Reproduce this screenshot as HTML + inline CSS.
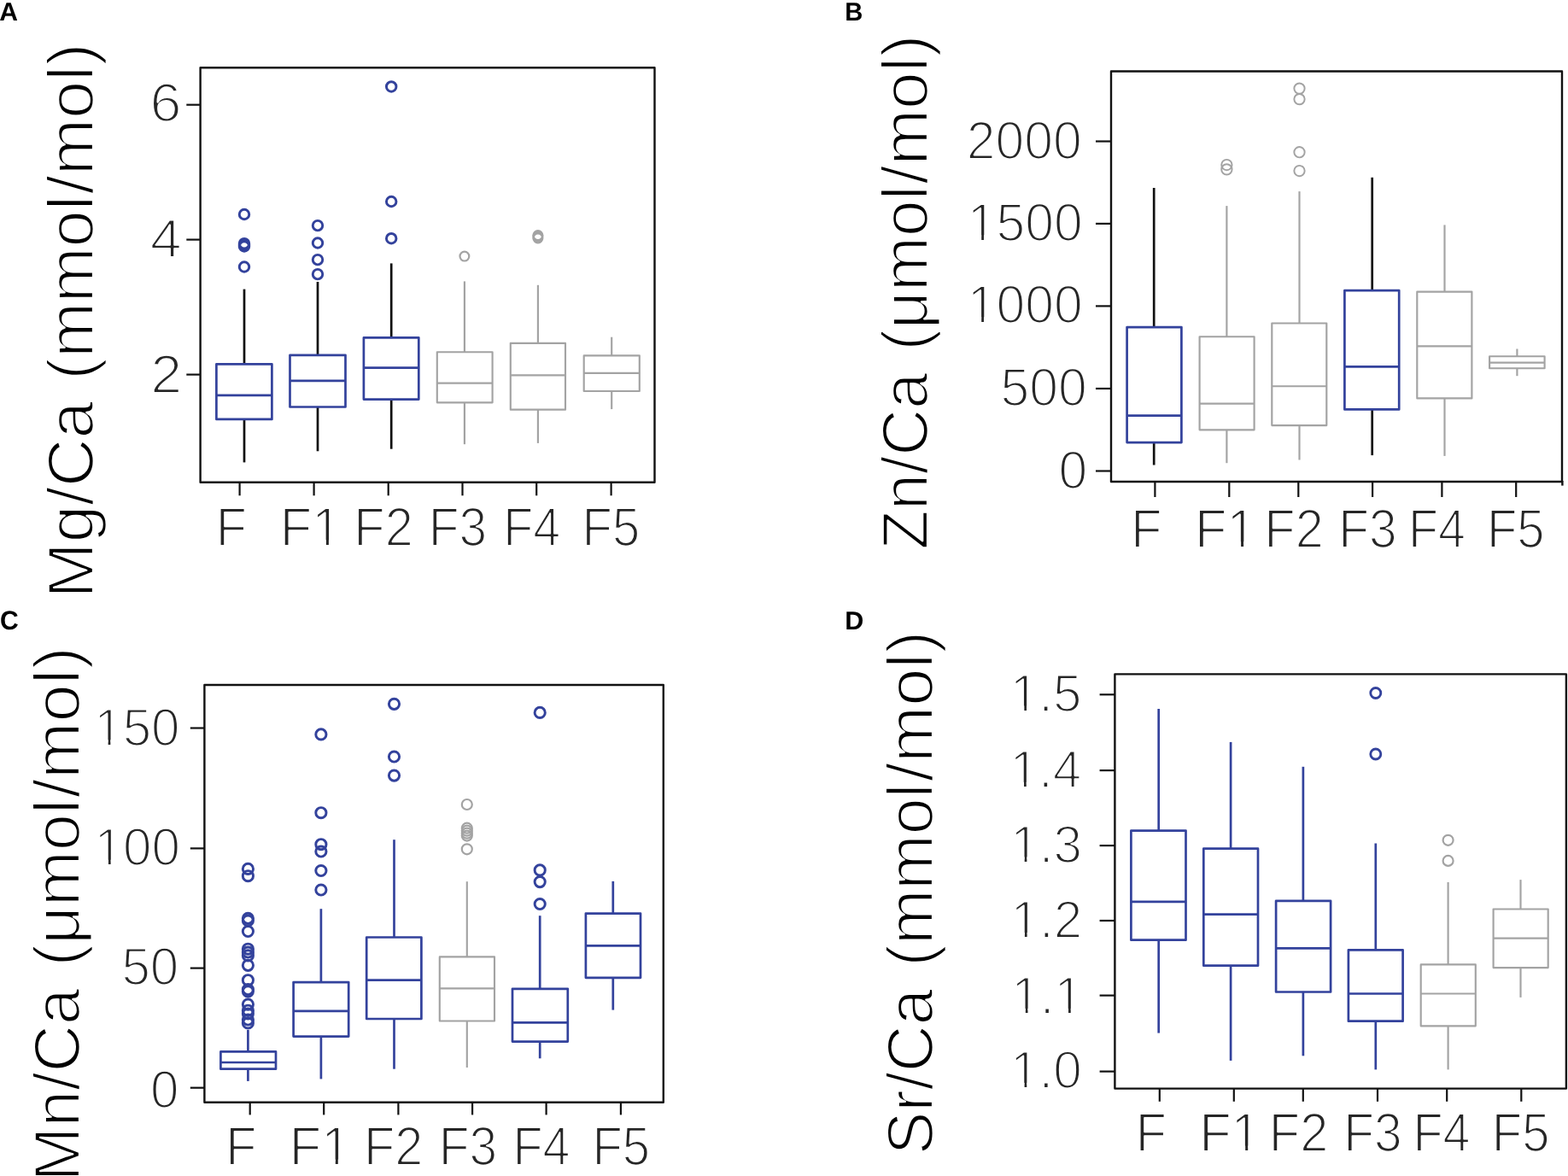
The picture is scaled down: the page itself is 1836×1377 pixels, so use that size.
<!DOCTYPE html>
<html><head><meta charset="utf-8"><title>Element ratios boxplots</title>
<style>
html,body{margin:0;padding:0;background:#fff;overflow:hidden;width:1836px;height:1377px;}
svg{display:block;}
text{font-family:"Liberation Sans",Arial,sans-serif;paint-order:fill stroke;font-kerning:none;font-variant-ligatures:none;text-rendering:geometricPrecision;}
</style></head><body>
<svg width="1836" height="1377" viewBox="0 0 1836 1377">
<rect width="1836" height="1377" fill="#fff"/>
<g transform="translate(-0.75,24.00) scale(1.0007,1)"><text font-size="30.09" fill="#000" font-weight="bold">A</text></g>
<line x1="218.3" y1="122.7" x2="234.6" y2="122.7" stroke="#111111" stroke-width="2.2" stroke-linecap="butt"/>
<g transform="translate(175.38,142.48) scale(1.0482,1)"><text font-size="63.45" fill="#262626" stroke="#fff" stroke-width="2.2" stroke-linejoin="round">6</text></g>
<line x1="218.3" y1="280.6" x2="234.6" y2="280.6" stroke="#111111" stroke-width="2.2" stroke-linecap="butt"/>
<g transform="translate(175.72,300.80) scale(1.0482,1)"><text font-size="63.45" fill="#262626" stroke="#fff" stroke-width="2.2" stroke-linejoin="round">4</text></g>
<line x1="218.3" y1="438.6" x2="234.6" y2="438.6" stroke="#111111" stroke-width="2.2" stroke-linecap="butt"/>
<g transform="translate(176.16,460.10) scale(1.0482,1)"><text font-size="63.45" fill="#262626" stroke="#fff" stroke-width="2.2" stroke-linejoin="round">2</text></g>
<line x1="280.6" y1="564.8" x2="280.6" y2="580.3" stroke="#111111" stroke-width="2.2" stroke-linecap="butt"/>
<line x1="367.6" y1="564.8" x2="367.6" y2="580.3" stroke="#111111" stroke-width="2.2" stroke-linecap="butt"/>
<line x1="454.7" y1="564.8" x2="454.7" y2="580.3" stroke="#111111" stroke-width="2.2" stroke-linecap="butt"/>
<line x1="541.5" y1="564.8" x2="541.5" y2="580.3" stroke="#111111" stroke-width="2.2" stroke-linecap="butt"/>
<line x1="628.2" y1="564.8" x2="628.2" y2="580.3" stroke="#111111" stroke-width="2.2" stroke-linecap="butt"/>
<line x1="715.6" y1="564.8" x2="715.6" y2="580.3" stroke="#111111" stroke-width="2.2" stroke-linecap="butt"/>
<g transform="translate(252.65,638.60) scale(0.9268,1)"><text font-size="63.95" fill="#262626" stroke="#fff" stroke-width="2.0" stroke-linejoin="round">F</text></g>
<g transform="translate(327.86,638.60) scale(0.9580,1)"><text font-size="63.95" fill="#262626" stroke="#fff" stroke-width="2.0" stroke-linejoin="round">F1</text><rect x="41.75" y="-6.38" width="14.65" height="8.58" fill="#fff"/><rect x="59.55" y="-6.38" width="14.15" height="8.58" fill="#fff"/></g>
<g transform="translate(414.36,638.60) scale(0.9297,1)"><text font-size="63.95" fill="#262626" stroke="#fff" stroke-width="2.0" stroke-linejoin="round">F2</text></g>
<g transform="translate(501.66,638.60) scale(0.9170,1)"><text font-size="63.95" fill="#262626" stroke="#fff" stroke-width="2.0" stroke-linejoin="round">F3</text></g>
<g transform="translate(589.21,638.60) scale(0.8972,1)"><text font-size="63.95" fill="#262626" stroke="#fff" stroke-width="2.0" stroke-linejoin="round">F4</text></g>
<g transform="translate(681.52,638.60) scale(0.9063,1)"><text font-size="63.95" fill="#262626" stroke="#fff" stroke-width="2.0" stroke-linejoin="round">F5</text></g>
<g transform="translate(108.50,700.52) rotate(-90) scale(1.0298,1)"><text font-size="76.00" fill="#000" stroke="#fff" stroke-width="2.2" stroke-linejoin="round">Mg/Ca</text></g>
<g transform="translate(108.50,444.71) rotate(-90) scale(1.0215,1)"><text font-size="76.00" fill="#000" stroke="#fff" stroke-width="2.2" stroke-linejoin="round">(mmol</text></g>
<g transform="translate(108.50,227.30) rotate(-90) scale(1.0465,1)"><text font-size="76.00" fill="#000" stroke="#fff" stroke-width="2.2" stroke-linejoin="round">/mol)</text></g>
<line x1="286.0" y1="338.6" x2="286.0" y2="426.3" stroke="#111111" stroke-width="2.7" stroke-linecap="butt"/>
<line x1="286.0" y1="490.9" x2="286.0" y2="541.4" stroke="#111111" stroke-width="2.7" stroke-linecap="butt"/>
<rect x="253.4" y="426.3" width="65.0" height="64.6" fill="none" stroke="#33429c" stroke-width="2.7" stroke-linejoin="round"/>
<line x1="253.4" y1="462.9" x2="318.4" y2="462.9" stroke="#33429c" stroke-width="2.7" stroke-linecap="butt"/>
<circle cx="286.0" cy="251.0" r="5.75" fill="none" stroke="#33429c" stroke-width="2.95"/>
<circle cx="286.0" cy="285.2" r="5.75" fill="none" stroke="#33429c" stroke-width="2.95"/>
<circle cx="286.0" cy="286.8" r="5.75" fill="none" stroke="#33429c" stroke-width="2.95"/>
<circle cx="286.0" cy="288.4" r="5.75" fill="none" stroke="#33429c" stroke-width="2.95"/>
<circle cx="286.0" cy="312.5" r="5.75" fill="none" stroke="#33429c" stroke-width="2.95"/>
<line x1="372.0" y1="330.0" x2="372.0" y2="415.8" stroke="#111111" stroke-width="2.7" stroke-linecap="butt"/>
<line x1="372.0" y1="476.5" x2="372.0" y2="528.3" stroke="#111111" stroke-width="2.7" stroke-linecap="butt"/>
<rect x="339.5" y="415.8" width="65.0" height="60.7" fill="none" stroke="#33429c" stroke-width="2.7" stroke-linejoin="round"/>
<line x1="339.5" y1="445.9" x2="404.5" y2="445.9" stroke="#33429c" stroke-width="2.7" stroke-linecap="butt"/>
<circle cx="372.0" cy="264.1" r="5.75" fill="none" stroke="#33429c" stroke-width="2.95"/>
<circle cx="372.0" cy="284.5" r="5.75" fill="none" stroke="#33429c" stroke-width="2.95"/>
<circle cx="372.0" cy="304.1" r="5.75" fill="none" stroke="#33429c" stroke-width="2.95"/>
<circle cx="372.0" cy="321.1" r="5.75" fill="none" stroke="#33429c" stroke-width="2.95"/>
<line x1="458.2" y1="308.4" x2="458.2" y2="395.4" stroke="#111111" stroke-width="2.7" stroke-linecap="butt"/>
<line x1="458.2" y1="467.6" x2="458.2" y2="525.7" stroke="#111111" stroke-width="2.7" stroke-linecap="butt"/>
<rect x="425.9" y="395.4" width="64.4" height="72.2" fill="none" stroke="#33429c" stroke-width="2.7" stroke-linejoin="round"/>
<line x1="425.9" y1="430.7" x2="490.3" y2="430.7" stroke="#33429c" stroke-width="2.7" stroke-linecap="butt"/>
<circle cx="458.2" cy="101.4" r="5.75" fill="none" stroke="#33429c" stroke-width="2.95"/>
<circle cx="458.2" cy="236.0" r="5.75" fill="none" stroke="#33429c" stroke-width="2.95"/>
<circle cx="458.2" cy="279.2" r="5.75" fill="none" stroke="#33429c" stroke-width="2.95"/>
<line x1="543.9" y1="329.4" x2="543.9" y2="412.2" stroke="#a3a3a3" stroke-width="2.15" stroke-linecap="butt"/>
<line x1="543.9" y1="471.3" x2="543.9" y2="520.2" stroke="#a3a3a3" stroke-width="2.15" stroke-linecap="butt"/>
<rect x="511.8" y="412.2" width="64.8" height="59.1" fill="none" stroke="#a3a3a3" stroke-width="2.15" stroke-linejoin="round"/>
<line x1="511.8" y1="448.6" x2="576.6" y2="448.6" stroke="#a3a3a3" stroke-width="2.15" stroke-linecap="butt"/>
<circle cx="543.9" cy="300.1" r="5.4" fill="none" stroke="#a3a3a3" stroke-width="2.2"/>
<line x1="629.9" y1="333.8" x2="629.9" y2="401.8" stroke="#a3a3a3" stroke-width="2.15" stroke-linecap="butt"/>
<line x1="629.9" y1="479.7" x2="629.9" y2="518.9" stroke="#a3a3a3" stroke-width="2.15" stroke-linecap="butt"/>
<rect x="597.8" y="401.8" width="64.2" height="77.9" fill="none" stroke="#a3a3a3" stroke-width="2.15" stroke-linejoin="round"/>
<line x1="597.8" y1="439.4" x2="662.0" y2="439.4" stroke="#a3a3a3" stroke-width="2.15" stroke-linecap="butt"/>
<circle cx="629.9" cy="275.6" r="5.4" fill="none" stroke="#a3a3a3" stroke-width="2.2"/>
<circle cx="629.9" cy="277.2" r="5.4" fill="none" stroke="#a3a3a3" stroke-width="2.2"/>
<circle cx="629.9" cy="278.9" r="5.4" fill="none" stroke="#a3a3a3" stroke-width="2.2"/>
<line x1="716.2" y1="394.7" x2="716.2" y2="416.4" stroke="#a3a3a3" stroke-width="2.15" stroke-linecap="butt"/>
<line x1="716.2" y1="458.0" x2="716.2" y2="479.1" stroke="#a3a3a3" stroke-width="2.15" stroke-linecap="butt"/>
<rect x="683.7" y="416.4" width="65.1" height="41.6" fill="none" stroke="#a3a3a3" stroke-width="2.15" stroke-linejoin="round"/>
<line x1="683.7" y1="436.8" x2="748.8" y2="436.8" stroke="#a3a3a3" stroke-width="2.15" stroke-linecap="butt"/>
<rect x="234.6" y="79.2" width="531.9" height="485.6" fill="none" stroke="#111111" stroke-width="2.4" stroke-linejoin="round"/>
<g transform="translate(989.35,24.00) scale(0.9701,1)"><text font-size="30.09" fill="#000" font-weight="bold">B</text></g>
<line x1="1283.0" y1="165.5" x2="1301.0" y2="165.5" stroke="#111111" stroke-width="2.2" stroke-linecap="butt"/>
<g transform="translate(1131.82,186.19) scale(0.9682,1)"><text font-size="62.71" fill="#262626" stroke="#fff" stroke-width="2.2" stroke-linejoin="round">2000</text></g>
<line x1="1283.0" y1="261.9" x2="1301.0" y2="261.9" stroke="#111111" stroke-width="2.2" stroke-linecap="butt"/>
<g transform="translate(1132.63,281.59) scale(0.9682,1)"><text font-size="62.71" fill="#262626" stroke="#fff" stroke-width="2.2" stroke-linejoin="round">1500</text><rect x="2.49" y="-6.38" width="14.63" height="8.68" fill="#fff"/><rect x="19.96" y="-6.38" width="14.14" height="8.68" fill="#fff"/></g>
<line x1="1283.0" y1="358.4" x2="1301.0" y2="358.4" stroke="#111111" stroke-width="2.2" stroke-linecap="butt"/>
<g transform="translate(1132.63,377.59) scale(0.9682,1)"><text font-size="62.71" fill="#262626" stroke="#fff" stroke-width="2.2" stroke-linejoin="round">1000</text><rect x="2.49" y="-6.38" width="14.63" height="8.68" fill="#fff"/><rect x="19.96" y="-6.38" width="14.14" height="8.68" fill="#fff"/></g>
<line x1="1283.0" y1="455.0" x2="1301.0" y2="455.0" stroke="#111111" stroke-width="2.2" stroke-linecap="butt"/>
<g transform="translate(1171.57,474.89) scale(0.9682,1)"><text font-size="62.71" fill="#262626" stroke="#fff" stroke-width="2.2" stroke-linejoin="round">500</text></g>
<line x1="1283.0" y1="551.5" x2="1301.0" y2="551.5" stroke="#111111" stroke-width="2.2" stroke-linecap="butt"/>
<g transform="translate(1239.52,571.79) scale(0.9682,1)"><text font-size="62.71" fill="#262626" stroke="#fff" stroke-width="2.2" stroke-linejoin="round">0</text></g>
<line x1="1352.4" y1="564.0" x2="1352.4" y2="582.0" stroke="#111111" stroke-width="2.2" stroke-linecap="butt"/>
<line x1="1439.3" y1="564.0" x2="1439.3" y2="582.0" stroke="#111111" stroke-width="2.2" stroke-linecap="butt"/>
<line x1="1520.3" y1="564.0" x2="1520.3" y2="582.0" stroke="#111111" stroke-width="2.2" stroke-linecap="butt"/>
<line x1="1607.1" y1="564.0" x2="1607.1" y2="582.0" stroke="#111111" stroke-width="2.2" stroke-linecap="butt"/>
<line x1="1688.4" y1="564.0" x2="1688.4" y2="582.0" stroke="#111111" stroke-width="2.2" stroke-linecap="butt"/>
<line x1="1775.2" y1="564.0" x2="1775.2" y2="582.0" stroke="#111111" stroke-width="2.2" stroke-linecap="butt"/>
<g transform="translate(1324.15,640.60) scale(0.9268,1)"><text font-size="63.95" fill="#262626" stroke="#fff" stroke-width="2.0" stroke-linejoin="round">F</text></g>
<g transform="translate(1399.06,640.60) scale(0.9580,1)"><text font-size="63.95" fill="#262626" stroke="#fff" stroke-width="2.0" stroke-linejoin="round">F1</text><rect x="41.75" y="-6.38" width="14.65" height="8.58" fill="#fff"/><rect x="59.55" y="-6.38" width="14.15" height="8.58" fill="#fff"/></g>
<g transform="translate(1480.36,640.60) scale(0.9297,1)"><text font-size="63.95" fill="#262626" stroke="#fff" stroke-width="2.0" stroke-linejoin="round">F2</text></g>
<g transform="translate(1567.16,640.60) scale(0.9170,1)"><text font-size="63.95" fill="#262626" stroke="#fff" stroke-width="2.0" stroke-linejoin="round">F3</text></g>
<g transform="translate(1648.91,640.60) scale(0.8972,1)"><text font-size="63.95" fill="#262626" stroke="#fff" stroke-width="2.0" stroke-linejoin="round">F4</text></g>
<g transform="translate(1740.92,640.60) scale(0.9063,1)"><text font-size="63.95" fill="#262626" stroke="#fff" stroke-width="2.0" stroke-linejoin="round">F5</text></g>
<g transform="translate(1086.10,643.82) rotate(-90) scale(1.0017,1)"><text font-size="76.00" fill="#000" stroke="#fff" stroke-width="2.2" stroke-linejoin="round">Zn/Ca</text></g>
<g transform="translate(1086.10,410.76) rotate(-90) scale(1.0101,1)"><text font-size="76.00" fill="#000" stroke="#fff" stroke-width="2.2" stroke-linejoin="round">(μmol</text></g>
<g transform="translate(1086.10,215.50) rotate(-90) scale(1.0361,1)"><text font-size="76.00" fill="#000" stroke="#fff" stroke-width="2.2" stroke-linejoin="round">/mol)</text></g>
<line x1="1351.2" y1="220.0" x2="1351.2" y2="383.1" stroke="#111111" stroke-width="2.7" stroke-linecap="butt"/>
<line x1="1351.2" y1="518.1" x2="1351.2" y2="544.5" stroke="#111111" stroke-width="2.7" stroke-linecap="butt"/>
<rect x="1319.6" y="383.1" width="63.8" height="135.0" fill="none" stroke="#33429c" stroke-width="2.7" stroke-linejoin="round"/>
<line x1="1319.6" y1="486.7" x2="1383.4" y2="486.7" stroke="#33429c" stroke-width="2.7" stroke-linecap="butt"/>
<line x1="1436.4" y1="241.1" x2="1436.4" y2="394.2" stroke="#a3a3a3" stroke-width="2.15" stroke-linecap="butt"/>
<line x1="1436.4" y1="503.3" x2="1436.4" y2="542.2" stroke="#a3a3a3" stroke-width="2.15" stroke-linecap="butt"/>
<rect x="1404.6" y="394.2" width="64.0" height="109.1" fill="none" stroke="#a3a3a3" stroke-width="2.15" stroke-linejoin="round"/>
<line x1="1404.6" y1="472.6" x2="1468.6" y2="472.6" stroke="#a3a3a3" stroke-width="2.15" stroke-linecap="butt"/>
<circle cx="1436.4" cy="193.0" r="6.15" fill="none" stroke="#a3a3a3" stroke-width="1.95"/>
<circle cx="1436.4" cy="198.4" r="6.15" fill="none" stroke="#a3a3a3" stroke-width="1.95"/>
<line x1="1521.5" y1="224.1" x2="1521.5" y2="378.5" stroke="#a3a3a3" stroke-width="2.15" stroke-linecap="butt"/>
<line x1="1521.5" y1="498.1" x2="1521.5" y2="538.5" stroke="#a3a3a3" stroke-width="2.15" stroke-linecap="butt"/>
<rect x="1489.3" y="378.5" width="64.0" height="119.6" fill="none" stroke="#a3a3a3" stroke-width="2.15" stroke-linejoin="round"/>
<line x1="1489.3" y1="452.2" x2="1553.3" y2="452.2" stroke="#a3a3a3" stroke-width="2.15" stroke-linecap="butt"/>
<circle cx="1521.5" cy="103.6" r="6.15" fill="none" stroke="#a3a3a3" stroke-width="1.95"/>
<circle cx="1521.5" cy="116.1" r="6.15" fill="none" stroke="#a3a3a3" stroke-width="1.95"/>
<circle cx="1521.5" cy="178.2" r="6.15" fill="none" stroke="#a3a3a3" stroke-width="1.95"/>
<circle cx="1521.5" cy="200.0" r="6.15" fill="none" stroke="#a3a3a3" stroke-width="1.95"/>
<line x1="1606.7" y1="207.8" x2="1606.7" y2="340.1" stroke="#111111" stroke-width="2.7" stroke-linecap="butt"/>
<line x1="1606.7" y1="479.4" x2="1606.7" y2="533.1" stroke="#111111" stroke-width="2.7" stroke-linecap="butt"/>
<rect x="1574.4" y="340.1" width="63.8" height="139.3" fill="none" stroke="#33429c" stroke-width="2.7" stroke-linejoin="round"/>
<line x1="1574.4" y1="429.4" x2="1638.2" y2="429.4" stroke="#33429c" stroke-width="2.7" stroke-linecap="butt"/>
<line x1="1691.5" y1="263.4" x2="1691.5" y2="341.6" stroke="#a3a3a3" stroke-width="2.15" stroke-linecap="butt"/>
<line x1="1691.5" y1="466.4" x2="1691.5" y2="533.9" stroke="#a3a3a3" stroke-width="2.15" stroke-linecap="butt"/>
<rect x="1659.3" y="341.6" width="64.1" height="124.8" fill="none" stroke="#a3a3a3" stroke-width="2.15" stroke-linejoin="round"/>
<line x1="1659.3" y1="405.3" x2="1723.4" y2="405.3" stroke="#a3a3a3" stroke-width="2.15" stroke-linecap="butt"/>
<line x1="1776.4" y1="408.5" x2="1776.4" y2="417.2" stroke="#a3a3a3" stroke-width="2.15" stroke-linecap="butt"/>
<line x1="1776.4" y1="431.2" x2="1776.4" y2="440.2" stroke="#a3a3a3" stroke-width="2.15" stroke-linecap="butt"/>
<rect x="1744.1" y="417.2" width="64.5" height="14.0" fill="none" stroke="#a3a3a3" stroke-width="2.15" stroke-linejoin="round"/>
<line x1="1744.1" y1="424.6" x2="1808.6" y2="424.6" stroke="#a3a3a3" stroke-width="2.15" stroke-linecap="butt"/>
<rect x="1301.0" y="83.5" width="528.0" height="480.5" fill="none" stroke="#111111" stroke-width="2.4" stroke-linejoin="round"/>
<g transform="translate(-0.04,737.10) scale(0.9653,1)"><text font-size="31.21" fill="#000" font-weight="bold">C</text></g>
<line x1="222.8" y1="852.5" x2="239.4" y2="852.5" stroke="#111111" stroke-width="2.2" stroke-linecap="butt"/>
<g transform="translate(110.22,872.59) scale(0.9699,1)"><text font-size="62.00" fill="#262626" stroke="#fff" stroke-width="2.2" stroke-linejoin="round">150</text><rect x="2.44" y="-6.33" width="14.50" height="8.63" fill="#fff"/><rect x="19.72" y="-6.33" width="14.02" height="8.63" fill="#fff"/></g>
<line x1="222.8" y1="993.4" x2="239.4" y2="993.4" stroke="#111111" stroke-width="2.2" stroke-linecap="butt"/>
<g transform="translate(110.52,1013.09) scale(0.9699,1)"><text font-size="62.00" fill="#262626" stroke="#fff" stroke-width="2.2" stroke-linejoin="round">100</text><rect x="2.44" y="-6.33" width="14.50" height="8.63" fill="#fff"/><rect x="19.72" y="-6.33" width="14.02" height="8.63" fill="#fff"/></g>
<line x1="222.8" y1="1133.6" x2="239.4" y2="1133.6" stroke="#111111" stroke-width="2.2" stroke-linecap="butt"/>
<g transform="translate(142.43,1153.29) scale(0.9699,1)"><text font-size="62.00" fill="#262626" stroke="#fff" stroke-width="2.2" stroke-linejoin="round">50</text></g>
<line x1="222.8" y1="1273.7" x2="239.4" y2="1273.7" stroke="#111111" stroke-width="2.2" stroke-linecap="butt"/>
<g transform="translate(175.88,1296.69) scale(0.9699,1)"><text font-size="62.00" fill="#262626" stroke="#fff" stroke-width="2.2" stroke-linejoin="round">0</text></g>
<line x1="292.7" y1="1290.7" x2="292.7" y2="1305.4" stroke="#111111" stroke-width="2.2" stroke-linecap="butt"/>
<line x1="379.2" y1="1290.7" x2="379.2" y2="1305.4" stroke="#111111" stroke-width="2.2" stroke-linecap="butt"/>
<line x1="466.4" y1="1290.7" x2="466.4" y2="1305.4" stroke="#111111" stroke-width="2.2" stroke-linecap="butt"/>
<line x1="553.1" y1="1290.7" x2="553.1" y2="1305.4" stroke="#111111" stroke-width="2.2" stroke-linecap="butt"/>
<line x1="639.6" y1="1290.7" x2="639.6" y2="1305.4" stroke="#111111" stroke-width="2.2" stroke-linecap="butt"/>
<line x1="726.9" y1="1290.7" x2="726.9" y2="1305.4" stroke="#111111" stroke-width="2.2" stroke-linecap="butt"/>
<g transform="translate(264.15,1363.90) scale(0.9268,1)"><text font-size="63.95" fill="#262626" stroke="#fff" stroke-width="2.0" stroke-linejoin="round">F</text></g>
<g transform="translate(338.76,1363.90) scale(0.9580,1)"><text font-size="63.95" fill="#262626" stroke="#fff" stroke-width="2.0" stroke-linejoin="round">F1</text><rect x="41.75" y="-6.38" width="14.65" height="8.58" fill="#fff"/><rect x="59.55" y="-6.38" width="14.15" height="8.58" fill="#fff"/></g>
<g transform="translate(426.06,1363.90) scale(0.9297,1)"><text font-size="63.95" fill="#262626" stroke="#fff" stroke-width="2.0" stroke-linejoin="round">F2</text></g>
<g transform="translate(513.66,1363.90) scale(0.9170,1)"><text font-size="63.95" fill="#262626" stroke="#fff" stroke-width="2.0" stroke-linejoin="round">F3</text></g>
<g transform="translate(600.51,1363.90) scale(0.8972,1)"><text font-size="63.95" fill="#262626" stroke="#fff" stroke-width="2.0" stroke-linejoin="round">F4</text></g>
<g transform="translate(693.42,1363.90) scale(0.9063,1)"><text font-size="63.95" fill="#262626" stroke="#fff" stroke-width="2.0" stroke-linejoin="round">F5</text></g>
<g transform="translate(92.80,1383.40) rotate(-90) scale(1.0101,1)"><text font-size="76.00" fill="#000" stroke="#fff" stroke-width="2.2" stroke-linejoin="round">Mn/Ca</text></g>
<g transform="translate(92.80,1131.62) rotate(-90) scale(1.0228,1)"><text font-size="76.00" fill="#000" stroke="#fff" stroke-width="2.2" stroke-linejoin="round">(μmol</text></g>
<g transform="translate(92.80,934.00) rotate(-90) scale(1.0471,1)"><text font-size="76.00" fill="#000" stroke="#fff" stroke-width="2.2" stroke-linejoin="round">/mol)</text></g>
<line x1="290.4" y1="1206.0" x2="290.4" y2="1231.4" stroke="#33429c" stroke-width="2.7" stroke-linecap="butt"/>
<line x1="290.4" y1="1251.7" x2="290.4" y2="1265.9" stroke="#33429c" stroke-width="2.7" stroke-linecap="butt"/>
<rect x="258.4" y="1231.4" width="64.6" height="20.3" fill="none" stroke="#33429c" stroke-width="2.7" stroke-linejoin="round"/>
<line x1="258.4" y1="1244.0" x2="323.0" y2="1244.0" stroke="#33429c" stroke-width="2.7" stroke-linecap="butt"/>
<circle cx="290.4" cy="1017.4" r="6.1" fill="none" stroke="#33429c" stroke-width="2.95"/>
<circle cx="290.4" cy="1025.7" r="6.1" fill="none" stroke="#33429c" stroke-width="2.95"/>
<circle cx="290.4" cy="1075.3" r="6.1" fill="none" stroke="#33429c" stroke-width="2.95"/>
<circle cx="290.4" cy="1078.0" r="6.1" fill="none" stroke="#33429c" stroke-width="2.95"/>
<circle cx="290.4" cy="1090.5" r="6.1" fill="none" stroke="#33429c" stroke-width="2.95"/>
<circle cx="290.4" cy="1111.2" r="6.1" fill="none" stroke="#33429c" stroke-width="2.95"/>
<circle cx="290.4" cy="1115.0" r="6.1" fill="none" stroke="#33429c" stroke-width="2.95"/>
<circle cx="290.4" cy="1118.9" r="6.1" fill="none" stroke="#33429c" stroke-width="2.95"/>
<circle cx="290.4" cy="1130.3" r="6.1" fill="none" stroke="#33429c" stroke-width="2.95"/>
<circle cx="290.4" cy="1147.7" r="6.1" fill="none" stroke="#33429c" stroke-width="2.95"/>
<circle cx="290.4" cy="1158.6" r="6.1" fill="none" stroke="#33429c" stroke-width="2.95"/>
<circle cx="290.4" cy="1160.8" r="6.1" fill="none" stroke="#33429c" stroke-width="2.95"/>
<circle cx="290.4" cy="1176.1" r="6.1" fill="none" stroke="#33429c" stroke-width="2.95"/>
<circle cx="290.4" cy="1183.2" r="6.1" fill="none" stroke="#33429c" stroke-width="2.95"/>
<circle cx="290.4" cy="1187.0" r="6.1" fill="none" stroke="#33429c" stroke-width="2.95"/>
<circle cx="290.4" cy="1194.0" r="6.1" fill="none" stroke="#33429c" stroke-width="2.95"/>
<circle cx="290.4" cy="1197.9" r="6.1" fill="none" stroke="#33429c" stroke-width="2.95"/>
<line x1="375.9" y1="1064.2" x2="375.9" y2="1150.1" stroke="#33429c" stroke-width="2.7" stroke-linecap="butt"/>
<line x1="375.9" y1="1213.6" x2="375.9" y2="1263.4" stroke="#33429c" stroke-width="2.7" stroke-linecap="butt"/>
<rect x="343.6" y="1150.1" width="64.6" height="63.5" fill="none" stroke="#33429c" stroke-width="2.7" stroke-linejoin="round"/>
<line x1="343.6" y1="1183.9" x2="408.2" y2="1183.9" stroke="#33429c" stroke-width="2.7" stroke-linecap="butt"/>
<circle cx="375.9" cy="859.9" r="6.1" fill="none" stroke="#33429c" stroke-width="2.95"/>
<circle cx="375.9" cy="951.7" r="6.1" fill="none" stroke="#33429c" stroke-width="2.95"/>
<circle cx="375.9" cy="988.7" r="6.1" fill="none" stroke="#33429c" stroke-width="2.95"/>
<circle cx="375.9" cy="997.0" r="6.1" fill="none" stroke="#33429c" stroke-width="2.95"/>
<circle cx="375.9" cy="1019.5" r="6.1" fill="none" stroke="#33429c" stroke-width="2.95"/>
<circle cx="375.9" cy="1042.0" r="6.1" fill="none" stroke="#33429c" stroke-width="2.95"/>
<line x1="461.5" y1="983.2" x2="461.5" y2="1097.5" stroke="#33429c" stroke-width="2.7" stroke-linecap="butt"/>
<line x1="461.5" y1="1193.0" x2="461.5" y2="1251.7" stroke="#33429c" stroke-width="2.7" stroke-linecap="butt"/>
<rect x="429.2" y="1097.5" width="64.2" height="95.5" fill="none" stroke="#33429c" stroke-width="2.7" stroke-linejoin="round"/>
<line x1="429.2" y1="1147.6" x2="493.4" y2="1147.6" stroke="#33429c" stroke-width="2.7" stroke-linecap="butt"/>
<circle cx="461.5" cy="824.3" r="6.1" fill="none" stroke="#33429c" stroke-width="2.95"/>
<circle cx="461.5" cy="886.0" r="6.1" fill="none" stroke="#33429c" stroke-width="2.95"/>
<circle cx="461.5" cy="908.1" r="6.1" fill="none" stroke="#33429c" stroke-width="2.95"/>
<line x1="546.8" y1="1032.2" x2="546.8" y2="1120.4" stroke="#a3a3a3" stroke-width="2.15" stroke-linecap="butt"/>
<line x1="546.8" y1="1195.5" x2="546.8" y2="1250.0" stroke="#a3a3a3" stroke-width="2.15" stroke-linecap="butt"/>
<rect x="514.8" y="1120.4" width="64.2" height="75.1" fill="none" stroke="#a3a3a3" stroke-width="2.15" stroke-linejoin="round"/>
<line x1="514.8" y1="1157.4" x2="579.0" y2="1157.4" stroke="#a3a3a3" stroke-width="2.15" stroke-linecap="butt"/>
<circle cx="546.8" cy="942.0" r="6.0" fill="none" stroke="#a3a3a3" stroke-width="2.2"/>
<circle cx="546.8" cy="969.7" r="6.0" fill="none" stroke="#a3a3a3" stroke-width="2.2"/>
<circle cx="546.8" cy="972.7" r="6.0" fill="none" stroke="#a3a3a3" stroke-width="2.2"/>
<circle cx="546.8" cy="975.7" r="6.0" fill="none" stroke="#a3a3a3" stroke-width="2.2"/>
<circle cx="546.8" cy="978.6" r="6.0" fill="none" stroke="#a3a3a3" stroke-width="2.2"/>
<circle cx="546.8" cy="994.3" r="6.0" fill="none" stroke="#a3a3a3" stroke-width="2.2"/>
<line x1="632.2" y1="1072.2" x2="632.2" y2="1157.8" stroke="#33429c" stroke-width="2.7" stroke-linecap="butt"/>
<line x1="632.2" y1="1219.6" x2="632.2" y2="1239.3" stroke="#33429c" stroke-width="2.7" stroke-linecap="butt"/>
<rect x="600.0" y="1157.8" width="64.8" height="61.8" fill="none" stroke="#33429c" stroke-width="2.7" stroke-linejoin="round"/>
<line x1="600.0" y1="1197.4" x2="664.8" y2="1197.4" stroke="#33429c" stroke-width="2.7" stroke-linecap="butt"/>
<circle cx="632.2" cy="834.4" r="6.1" fill="none" stroke="#33429c" stroke-width="2.95"/>
<circle cx="632.2" cy="1018.9" r="6.1" fill="none" stroke="#33429c" stroke-width="2.95"/>
<circle cx="632.2" cy="1032.6" r="6.1" fill="none" stroke="#33429c" stroke-width="2.95"/>
<circle cx="632.2" cy="1058.5" r="6.1" fill="none" stroke="#33429c" stroke-width="2.95"/>
<line x1="717.8" y1="1031.9" x2="717.8" y2="1069.6" stroke="#33429c" stroke-width="2.7" stroke-linecap="butt"/>
<line x1="717.8" y1="1144.8" x2="717.8" y2="1182.6" stroke="#33429c" stroke-width="2.7" stroke-linecap="butt"/>
<rect x="685.9" y="1069.6" width="64.1" height="75.2" fill="none" stroke="#33429c" stroke-width="2.7" stroke-linejoin="round"/>
<line x1="685.9" y1="1107.4" x2="750.0" y2="1107.4" stroke="#33429c" stroke-width="2.7" stroke-linecap="butt"/>
<rect x="239.4" y="802.0" width="537.4" height="488.7" fill="none" stroke="#111111" stroke-width="2.4" stroke-linejoin="round"/>
<g transform="translate(989.20,736.70) scale(1.0161,1)"><text font-size="30.09" fill="#000" font-weight="bold">D</text></g>
<line x1="1287.6" y1="813.3" x2="1305.4" y2="813.3" stroke="#111111" stroke-width="2.2" stroke-linecap="butt"/>
<g transform="translate(1182.86,832.70) scale(0.9728,1)"><text font-size="61.91" fill="#262626" stroke="#fff" stroke-width="2.2" stroke-linejoin="round">1.5</text><rect x="2.43" y="-6.33" width="14.48" height="8.63" fill="#fff"/><rect x="19.69" y="-6.33" width="14.00" height="8.63" fill="#fff"/></g>
<line x1="1287.6" y1="902.1" x2="1305.4" y2="902.1" stroke="#111111" stroke-width="2.2" stroke-linecap="butt"/>
<g transform="translate(1182.57,922.20) scale(0.9728,1)"><text font-size="61.91" fill="#262626" stroke="#fff" stroke-width="2.2" stroke-linejoin="round">1.4</text><rect x="2.43" y="-6.33" width="14.48" height="8.63" fill="#fff"/><rect x="19.69" y="-6.33" width="14.00" height="8.63" fill="#fff"/></g>
<line x1="1287.6" y1="990.1" x2="1305.4" y2="990.1" stroke="#111111" stroke-width="2.2" stroke-linecap="butt"/>
<g transform="translate(1183.22,1009.70) scale(0.9728,1)"><text font-size="61.91" fill="#262626" stroke="#fff" stroke-width="2.2" stroke-linejoin="round">1.3</text><rect x="2.43" y="-6.33" width="14.48" height="8.63" fill="#fff"/><rect x="19.69" y="-6.33" width="14.00" height="8.63" fill="#fff"/></g>
<line x1="1287.6" y1="1078.0" x2="1305.4" y2="1078.0" stroke="#111111" stroke-width="2.2" stroke-linecap="butt"/>
<g transform="translate(1183.46,1098.30) scale(0.9728,1)"><text font-size="61.91" fill="#262626" stroke="#fff" stroke-width="2.2" stroke-linejoin="round">1.2</text><rect x="2.43" y="-6.33" width="14.48" height="8.63" fill="#fff"/><rect x="19.69" y="-6.33" width="14.00" height="8.63" fill="#fff"/></g>
<line x1="1287.6" y1="1165.6" x2="1305.4" y2="1165.6" stroke="#111111" stroke-width="2.2" stroke-linecap="butt"/>
<g transform="translate(1184.36,1187.20) scale(0.9728,1)"><text font-size="61.91" fill="#262626" stroke="#fff" stroke-width="2.2" stroke-linejoin="round">1.1</text><rect x="2.43" y="-6.33" width="14.48" height="8.63" fill="#fff"/><rect x="19.69" y="-6.33" width="14.00" height="8.63" fill="#fff"/><rect x="54.07" y="-6.33" width="14.48" height="8.63" fill="#fff"/><rect x="71.33" y="-6.33" width="14.00" height="8.63" fill="#fff"/></g>
<line x1="1287.6" y1="1254.6" x2="1305.4" y2="1254.6" stroke="#111111" stroke-width="2.2" stroke-linecap="butt"/>
<g transform="translate(1183.12,1274.20) scale(0.9728,1)"><text font-size="61.91" fill="#262626" stroke="#fff" stroke-width="2.2" stroke-linejoin="round">1.0</text><rect x="2.43" y="-6.33" width="14.48" height="8.63" fill="#fff"/><rect x="19.69" y="-6.33" width="14.00" height="8.63" fill="#fff"/></g>
<line x1="1357.8" y1="1274.6" x2="1357.8" y2="1289.8" stroke="#111111" stroke-width="2.2" stroke-linecap="butt"/>
<line x1="1444.8" y1="1274.6" x2="1444.8" y2="1289.8" stroke="#111111" stroke-width="2.2" stroke-linecap="butt"/>
<line x1="1525.8" y1="1274.6" x2="1525.8" y2="1289.8" stroke="#111111" stroke-width="2.2" stroke-linecap="butt"/>
<line x1="1613.0" y1="1274.6" x2="1613.0" y2="1289.8" stroke="#111111" stroke-width="2.2" stroke-linecap="butt"/>
<line x1="1694.2" y1="1274.6" x2="1694.2" y2="1289.8" stroke="#111111" stroke-width="2.2" stroke-linecap="butt"/>
<line x1="1781.3" y1="1274.6" x2="1781.3" y2="1289.8" stroke="#111111" stroke-width="2.2" stroke-linecap="butt"/>
<g transform="translate(1329.85,1348.00) scale(0.9268,1)"><text font-size="63.95" fill="#262626" stroke="#fff" stroke-width="2.0" stroke-linejoin="round">F</text></g>
<g transform="translate(1404.16,1348.00) scale(0.9580,1)"><text font-size="63.95" fill="#262626" stroke="#fff" stroke-width="2.0" stroke-linejoin="round">F1</text><rect x="41.75" y="-6.38" width="14.65" height="8.58" fill="#fff"/><rect x="59.55" y="-6.38" width="14.15" height="8.58" fill="#fff"/></g>
<g transform="translate(1485.86,1348.00) scale(0.9297,1)"><text font-size="63.95" fill="#262626" stroke="#fff" stroke-width="2.0" stroke-linejoin="round">F2</text></g>
<g transform="translate(1573.16,1348.00) scale(0.9170,1)"><text font-size="63.95" fill="#262626" stroke="#fff" stroke-width="2.0" stroke-linejoin="round">F3</text></g>
<g transform="translate(1654.41,1348.00) scale(0.8972,1)"><text font-size="63.95" fill="#262626" stroke="#fff" stroke-width="2.0" stroke-linejoin="round">F4</text></g>
<g transform="translate(1746.82,1348.00) scale(0.9063,1)"><text font-size="63.95" fill="#262626" stroke="#fff" stroke-width="2.0" stroke-linejoin="round">F5</text></g>
<g transform="translate(1092.10,1352.25) rotate(-90) scale(0.9994,1)"><text font-size="76.00" fill="#000" stroke="#fff" stroke-width="2.2" stroke-linejoin="round">Sr/Ca</text></g>
<g transform="translate(1092.10,1131.79) rotate(-90) scale(1.0165,1)"><text font-size="76.00" fill="#000" stroke="#fff" stroke-width="2.2" stroke-linejoin="round">(mmol</text></g>
<g transform="translate(1092.10,915.00) rotate(-90) scale(1.0440,1)"><text font-size="76.00" fill="#000" stroke="#fff" stroke-width="2.2" stroke-linejoin="round">/mol)</text></g>
<line x1="1356.7" y1="830.0" x2="1356.7" y2="972.6" stroke="#33429c" stroke-width="2.7" stroke-linecap="butt"/>
<line x1="1356.7" y1="1100.7" x2="1356.7" y2="1209.6" stroke="#33429c" stroke-width="2.7" stroke-linecap="butt"/>
<rect x="1324.4" y="972.6" width="64.1" height="128.1" fill="none" stroke="#33429c" stroke-width="2.7" stroke-linejoin="round"/>
<line x1="1324.4" y1="1055.9" x2="1388.5" y2="1055.9" stroke="#33429c" stroke-width="2.7" stroke-linecap="butt"/>
<line x1="1441.1" y1="868.9" x2="1441.1" y2="993.7" stroke="#33429c" stroke-width="2.7" stroke-linecap="butt"/>
<line x1="1441.1" y1="1130.7" x2="1441.1" y2="1241.9" stroke="#33429c" stroke-width="2.7" stroke-linecap="butt"/>
<rect x="1409.3" y="993.7" width="63.7" height="137.0" fill="none" stroke="#33429c" stroke-width="2.7" stroke-linejoin="round"/>
<line x1="1409.3" y1="1070.7" x2="1473.0" y2="1070.7" stroke="#33429c" stroke-width="2.7" stroke-linecap="butt"/>
<line x1="1525.9" y1="897.8" x2="1525.9" y2="1054.8" stroke="#33429c" stroke-width="2.7" stroke-linecap="butt"/>
<line x1="1525.9" y1="1161.5" x2="1525.9" y2="1236.3" stroke="#33429c" stroke-width="2.7" stroke-linecap="butt"/>
<rect x="1494.1" y="1054.8" width="64.0" height="106.7" fill="none" stroke="#33429c" stroke-width="2.7" stroke-linejoin="round"/>
<line x1="1494.1" y1="1110.4" x2="1558.1" y2="1110.4" stroke="#33429c" stroke-width="2.7" stroke-linecap="butt"/>
<line x1="1610.8" y1="987.5" x2="1610.8" y2="1112.3" stroke="#33429c" stroke-width="2.7" stroke-linecap="butt"/>
<line x1="1610.8" y1="1195.7" x2="1610.8" y2="1252.4" stroke="#33429c" stroke-width="2.7" stroke-linecap="butt"/>
<rect x="1578.9" y="1112.3" width="63.7" height="83.4" fill="none" stroke="#33429c" stroke-width="2.7" stroke-linejoin="round"/>
<line x1="1578.9" y1="1163.5" x2="1642.6" y2="1163.5" stroke="#33429c" stroke-width="2.7" stroke-linecap="butt"/>
<circle cx="1610.8" cy="811.5" r="6.0" fill="none" stroke="#33429c" stroke-width="2.85"/>
<circle cx="1610.8" cy="883.0" r="6.0" fill="none" stroke="#33429c" stroke-width="2.85"/>
<line x1="1695.6" y1="1033.0" x2="1695.6" y2="1129.4" stroke="#a3a3a3" stroke-width="2.15" stroke-linecap="butt"/>
<line x1="1695.6" y1="1201.3" x2="1695.6" y2="1252.4" stroke="#a3a3a3" stroke-width="2.15" stroke-linecap="butt"/>
<rect x="1663.7" y="1129.4" width="64.1" height="71.9" fill="none" stroke="#a3a3a3" stroke-width="2.15" stroke-linejoin="round"/>
<line x1="1663.7" y1="1163.5" x2="1727.8" y2="1163.5" stroke="#a3a3a3" stroke-width="2.15" stroke-linecap="butt"/>
<circle cx="1695.6" cy="983.8" r="6.0" fill="none" stroke="#a3a3a3" stroke-width="2.2"/>
<circle cx="1695.6" cy="1007.9" r="6.0" fill="none" stroke="#a3a3a3" stroke-width="2.2"/>
<line x1="1780.5" y1="1030.1" x2="1780.5" y2="1064.5" stroke="#a3a3a3" stroke-width="2.15" stroke-linecap="butt"/>
<line x1="1780.5" y1="1133.1" x2="1780.5" y2="1167.9" stroke="#a3a3a3" stroke-width="2.15" stroke-linecap="butt"/>
<rect x="1748.6" y="1064.5" width="64.1" height="68.6" fill="none" stroke="#a3a3a3" stroke-width="2.15" stroke-linejoin="round"/>
<line x1="1748.6" y1="1098.6" x2="1812.7" y2="1098.6" stroke="#a3a3a3" stroke-width="2.15" stroke-linecap="butt"/>
<rect x="1305.4" y="789.4" width="528.5" height="485.2" fill="none" stroke="#111111" stroke-width="2.4" stroke-linejoin="round"/>
<line x1="1829.4" y1="563.0" x2="1829.4" y2="568.6" stroke="#111111" stroke-width="2.4" stroke-linecap="butt"/>
</svg>
</body></html>
